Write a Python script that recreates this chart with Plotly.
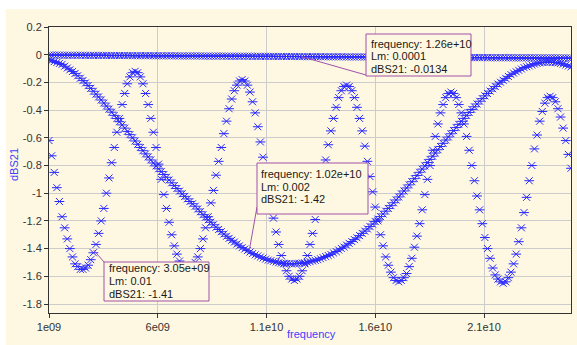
import numpy as np
import plotly.graph_objects as go

# ---------------- data ----------------
FREQ_START = 1e9
FREQ_STOP = 2.5e10
N_POINTS = 201
freq = np.linspace(FREQ_START, FREQ_STOP, N_POINTS)

lm_values = ["0.0001", "0.002", "0.01"]

dbs21_lm_0p0001 = [
    -0.003, -0.003, -0.003, -0.003, -0.003,
    -0.004, -0.004, -0.004, -0.004, -0.004, -0.004, -0.004, -0.004, -0.004,
    -0.005, -0.005, -0.005, -0.005, -0.005, -0.005, -0.005, -0.005, -0.005,
    -0.006, -0.006, -0.006, -0.006, -0.006, -0.006, -0.006, -0.006, -0.006,
    -0.007, -0.007, -0.007, -0.007, -0.007, -0.007, -0.007, -0.007, -0.007,
    -0.008, -0.008, -0.008, -0.008, -0.008, -0.008, -0.008, -0.008, -0.008,
    -0.009, -0.009, -0.009, -0.009, -0.009, -0.009, -0.009, -0.009, -0.009,
    -0.010, -0.010, -0.010, -0.010, -0.010, -0.010, -0.010, -0.010, -0.010,
    -0.011, -0.011, -0.011, -0.011, -0.011, -0.011, -0.011, -0.011, -0.011, -0.011,
    -0.012, -0.012, -0.012, -0.012, -0.012, -0.012, -0.012, -0.012, -0.012,
    -0.013, -0.013, -0.013, -0.013, -0.013, -0.013, -0.013, -0.013, -0.013,
    -0.014, -0.014, -0.014, -0.014, -0.014, -0.014, -0.014, -0.014, -0.014,
    -0.015, -0.015, -0.015, -0.015, -0.015, -0.015, -0.015, -0.015, -0.015,
    -0.016, -0.016, -0.016, -0.016, -0.016, -0.016, -0.016, -0.016, -0.016,
    -0.017, -0.017, -0.017, -0.017, -0.017, -0.017, -0.017, -0.017, -0.017,
    -0.018, -0.018, -0.018, -0.018, -0.018, -0.018, -0.018, -0.018, -0.018,
    -0.019, -0.019, -0.019, -0.019, -0.019, -0.019, -0.019, -0.019, -0.019,
    -0.020, -0.020, -0.020, -0.020, -0.020, -0.020, -0.020, -0.020, -0.020,
    -0.021, -0.021, -0.021, -0.021, -0.021, -0.021, -0.021, -0.021, -0.021, -0.021,
    -0.022, -0.022, -0.022, -0.022, -0.022, -0.022, -0.022, -0.022, -0.022,
    -0.023, -0.023, -0.023, -0.023, -0.023, -0.023, -0.023, -0.023, -0.023,
    -0.024, -0.024, -0.024, -0.024, -0.024, -0.024, -0.024, -0.024, -0.024,
    -0.025, -0.025, -0.025, -0.025, -0.025,
]

dbs21_lm_0p002 = [
    -0.036, -0.043, -0.050, -0.056, -0.063, -0.070, -0.083, -0.096, -0.109, -0.121,
    -0.135, -0.152, -0.170, -0.187, -0.204, -0.223, -0.243, -0.264, -0.285, -0.305,
    -0.327, -0.349, -0.371, -0.393, -0.415, -0.438, -0.461, -0.484, -0.507, -0.530,
    -0.554, -0.577, -0.600, -0.623, -0.647, -0.670, -0.693, -0.716, -0.738, -0.760,
    -0.782, -0.803, -0.824, -0.844, -0.865, -0.885, -0.905, -0.925, -0.945, -0.966,
    -0.985, -1.004, -1.023, -1.041, -1.060, -1.076, -1.094, -1.114, -1.134, -1.155,
    -1.173, -1.192, -1.210, -1.228, -1.246, -1.262, -1.278, -1.295, -1.311, -1.326,
    -1.340, -1.353, -1.367, -1.380, -1.393, -1.403, -1.414, -1.425, -1.436, -1.445,
    -1.453, -1.461, -1.468, -1.476, -1.483, -1.487, -1.492, -1.497, -1.502, -1.505,
    -1.506, -1.508, -1.509, -1.511,
    -1.509, -1.507, -1.506, -1.504, -1.503, -1.499,
    -1.494, -1.489, -1.485, -1.480, -1.473, -1.465, -1.457, -1.450, -1.442, -1.431,
    -1.421, -1.410, -1.399, -1.389, -1.375, -1.362, -1.349, -1.335, -1.322, -1.306,
    -1.290, -1.274, -1.258, -1.241, -1.223, -1.205, -1.187, -1.169, -1.150, -1.130,
    -1.110, -1.090, -1.069, -1.049, -1.027, -1.005, -0.984, -0.962, -0.940, -0.917,
    -0.895, -0.872, -0.849, -0.826, -0.803, -0.779, -0.756, -0.733, -0.710, -0.686,
    -0.663, -0.640, -0.616, -0.594, -0.571, -0.548, -0.526, -0.503, -0.481, -0.460,
    -0.438, -0.417, -0.395, -0.376, -0.356, -0.336, -0.317, -0.297, -0.280, -0.263,
    -0.246, -0.230, -0.212, -0.199, -0.185, -0.171, -0.157, -0.144, -0.133, -0.123,
    -0.113, -0.103, -0.093, -0.087, -0.081, -0.074, -0.068, -0.063, -0.059, -0.056,
    -0.055, -0.054, -0.054, -0.055, -0.057, -0.059, -0.063, -0.068, -0.075, -0.081,
    -0.088,
]

dbs21_lm_0p01 = [
    -0.62, -0.73, -0.85, -0.96, -1.06, -1.17, -1.25, -1.33, -1.40, -1.46, -1.51, -1.53, -1.55,
    -1.55, -1.54, -1.52, -1.48, -1.43, -1.37, -1.29, -1.20, -1.11, -1.00, -0.89, -0.78, -0.67,
    -0.56, -0.46, -0.36, -0.28, -0.21, -0.16, -0.13, -0.12,
    -0.13, -0.16, -0.21, -0.28, -0.36, -0.46, -0.56, -0.67, -0.79, -0.90, -1.01, -1.11, -1.21,
    -1.30, -1.38, -1.44, -1.49, -1.53, -1.55, -1.56,
    -1.55, -1.53, -1.50, -1.46, -1.40, -1.33, -1.25, -1.17, -1.07, -0.98, -0.87, -0.77, -0.67,
    -0.57, -0.48, -0.39, -0.32, -0.26, -0.22, -0.19, -0.18,
    -0.19, -0.22, -0.27, -0.34, -0.42, -0.52, -0.63, -0.74, -0.85, -0.96, -1.08, -1.18, -1.28,
    -1.37, -1.45, -1.51, -1.56, -1.60, -1.62, -1.63,
    -1.62, -1.60, -1.56, -1.51, -1.45, -1.37, -1.29, -1.19, -1.09, -0.98, -0.87, -0.76, -0.65,
    -0.55, -0.46, -0.38, -0.31, -0.26, -0.23, -0.22,
    -0.23, -0.26, -0.31, -0.38, -0.46, -0.55, -0.66, -0.77, -0.88, -0.99, -1.10, -1.20, -1.30,
    -1.38, -1.46, -1.52, -1.57, -1.61, -1.63, -1.64,
    -1.63, -1.61, -1.58, -1.53, -1.47, -1.39, -1.31, -1.22, -1.12, -1.01, -0.90, -0.80, -0.69,
    -0.59, -0.50, -0.42, -0.36, -0.31, -0.28, -0.27,
    -0.28, -0.31, -0.36, -0.42, -0.50, -0.59, -0.69, -0.80, -0.91, -1.02, -1.12, -1.22, -1.32,
    -1.40, -1.47, -1.54, -1.59, -1.62, -1.64, -1.65,
    -1.64, -1.61, -1.57, -1.51, -1.44, -1.35, -1.25, -1.14, -1.03, -0.91, -0.80, -0.68, -0.58,
    -0.48, -0.41, -0.35, -0.31, -0.30,
    -0.31, -0.34, -0.39, -0.45, -0.53, -0.62, -0.72, -0.82,
]

series = [dbs21_lm_0p0001, dbs21_lm_0p002, dbs21_lm_0p01]
for s in series:
    assert len(s) == N_POINTS, len(s)

x_tickvals = [1e9, 6e9, 1.1e10, 1.6e10, 2.1e10]
x_ticktext = ["1e09", "6e09", "1.1e10", "1.6e10", "2.1e10"]
y_tickvals = [0.2, 0.0, -0.2, -0.4, -0.6, -0.8, -1.0, -1.2, -1.4, -1.6, -1.8]
y_ticktext = ["0.2", "0", "-0.2", "-0.4", "-0.6", "-0.8", "-1", "-1.2", "-1.4", "-1.6", "-1.8"]

# marker readouts: (frequency, Lm, dBS21)
marker_freq = [3.05e9, 1.02e10, 1.26e10]
marker_lm = ["0.01", "0.002", "0.0001"]
marker_db = [-1.41, -1.42, -0.0134]
marker_freq_text = ["3.05e+09", "1.02e+10", "1.26e+10"]
marker_db_text = ["-1.41", "-1.42", "-0.0134"]

# ---------------- layout geometry ----------------
W_FIG, H_FIG = 577, 345
L, T, R, B = 49, 27, 6, 32
PW, PH = W_FIG - L - R, H_FIG - T - B
X_RANGE = [1e9, 2.5e10]
Y_RANGE = [-1.865, 0.2]

def px2x(px):
    return X_RANGE[0] + (px - L) / PW * (X_RANGE[1] - X_RANGE[0])

def py2y(py):
    return Y_RANGE[1] - (py - T) / PH * (Y_RANGE[1] - Y_RANGE[0])

def px2paper(px):
    return (px - L) / PW

def py2paper(py):
    return (H_FIG - B - py) / PH

# readout boxes in pixels: (left, top, right, bottom), attach point, line centers
boxes = [
    dict(box=(104, 262, 209, 301), attach=(104, 262), lines=(268, 281, 294), tx=106.5),
    dict(box=(257, 163, 368, 214), attach=(257, 207), lines=(174, 186.5, 199), tx=259),
    dict(box=(366, 34, 471, 76), attach=(366, 75), lines=(43.5, 56, 68.5), tx=368.5),
]

BG = "#FEF8E2"
BLUE = "#2a2aff"
PURPLE = "#A050A8"
FONT = "Liberation Sans, Arial, sans-serif"

fig = go.Figure()
for vals in series:
    for sym in ["x-thin-open", "line-ew-open"]:
        fig.add_trace(go.Scatter(
            x=freq, y=vals, mode="markers",
            marker=dict(symbol=sym, size=7, color=BLUE,
                        line=dict(width=1, color=BLUE)),
            showlegend=False, hoverinfo="skip",
        ))

shapes = [
    dict(type="rect", xref="paper", yref="paper",
         x0=px2paper(6), x1=px2paper(577), y0=py2paper(9), y1=py2paper(345),
         fillcolor=BG, line=dict(width=0), layer="below"),
]
annotations = []
for i, b in enumerate(boxes):
    l, t, r, btm = b["box"]
    ax, ay = b["attach"]
    shapes.append(dict(type="line", xref="x", yref="y",
                       x0=marker_freq[i], y0=marker_db[i],
                       x1=px2x(ax), y1=py2y(ay),
                       line=dict(color=PURPLE, width=1), layer="above"))
    shapes.append(dict(type="rect", xref="x", yref="y",
                       x0=px2x(l), x1=px2x(r), y0=py2y(t), y1=py2y(btm),
                       fillcolor=BG, line=dict(color=PURPLE, width=1), layer="above"))
    texts = ["frequency: " + marker_freq_text[i], "Lm: " + marker_lm[i],
             "dBS21: " + marker_db_text[i]]
    for txt, ly in zip(texts, b["lines"]):
        annotations.append(dict(xref="x", yref="y", x=px2x(b["tx"]), y=py2y(ly),
                                text=txt, showarrow=False, xanchor="left",
                                yanchor="middle", font=dict(family=FONT, size=11, color="#1a1a1a")))

annotations.append(dict(xref="paper", yref="paper", x=px2paper(311), y=py2paper(334),
                        text="frequency", showarrow=False, xanchor="center", yanchor="middle",
                        font=dict(family=FONT, size=11, color="#4040ff")))
annotations.append(dict(xref="paper", yref="paper", x=px2paper(14), y=py2paper(165),
                        text="dBS21", showarrow=False, xanchor="center", yanchor="middle",
                        textangle=-90, font=dict(family=FONT, size=11, color="#4040ff")))

axis_common = dict(showline=True, linecolor="#333333", linewidth=1, mirror=True,
                   ticks="outside", ticklen=4, tickcolor="#333333",
                   showgrid=True, gridcolor="#cccccc", gridwidth=1, zeroline=False,
                   tickfont=dict(family=FONT, size=11, color="#333333"))

fig.update_layout(
    width=W_FIG, height=H_FIG,
    margin=dict(l=L, r=R, t=T, b=B),
    paper_bgcolor="white", plot_bgcolor=BG,
    xaxis=dict(range=X_RANGE, tickmode="array", tickvals=x_tickvals, ticktext=x_ticktext,
               **axis_common),
    yaxis=dict(range=Y_RANGE, tickmode="array", tickvals=y_tickvals, ticktext=y_ticktext,
               **axis_common),
    shapes=shapes, annotations=annotations, showlegend=False,
)

fig.write_html("out.html")
